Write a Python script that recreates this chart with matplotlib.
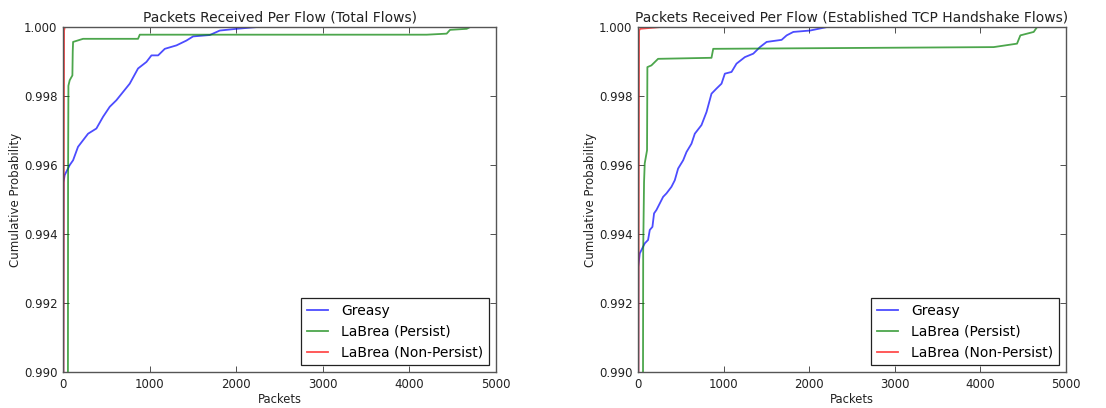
import matplotlib
matplotlib.use("Agg")
import matplotlib.pyplot as plt

# ---- data ----
titles = ["Packets Received Per Flow (Total Flows)",
          "Packets Received Per Flow (Established TCP Handshake Flows)"]
labels = ["Greasy", "LaBrea (Persist)", "LaBrea (Non-Persist)"]

greasy_total_x = [1, 5, 19, 77, 116, 173, 231, 289, 385, 462, 539, 616, 693, 770, 866,
                  963, 1021, 1098, 1175, 1310, 1425, 1502, 1695, 1810, 2003, 2234, 2400]
greasy_total_y = [0.985, 0.9955, 0.99571, 0.9960, 0.99614, 0.99653, 0.99672, 0.99691, 0.99706,
                  0.9974, 0.99769, 0.99788, 0.99812, 0.99836, 0.9988, 0.99899, 0.99918,
                  0.99918, 0.99937, 0.99947, 0.99961, 0.99973, 0.99977, 0.9999, 0.99995,
                  1.0, 1.0]
persist_total_x = [55, 58, 62, 77, 108, 112, 116, 180, 231, 866, 886, 4200, 4430, 4469, 4661, 4700]
persist_total_y = [0.985, 0.9955, 0.9983, 0.99846, 0.9986, 0.9993, 0.99957, 0.99962, 0.99966,
                   0.99966, 0.99978, 0.99978, 0.99981, 0.99992, 0.99995, 1.0]
nonpersist_total_x = [1, 12, 20, 250]
nonpersist_total_y = [0.985, 0.9999, 1.0, 1.0]

greasy_est_x = [1, 3, 20, 78, 117, 137, 168, 187, 215, 254, 293, 332, 390, 429, 468, 527,
                566, 624, 663, 741, 800, 858, 917, 975, 1014, 1092, 1150, 1248, 1346, 1424,
                1502, 1677, 1736, 1814, 2009, 2204, 2400]
greasy_est_y = [0.985, 0.99306, 0.99344, 0.99373, 0.99383, 0.99412, 0.99421, 0.9946, 0.9947,
                0.99489, 0.99508, 0.99518, 0.99537, 0.99556, 0.9959, 0.99614, 0.99638,
                0.99662, 0.99691, 0.99716, 0.99754, 0.99807, 0.99822, 0.99836, 0.99865,
                0.9987, 0.99894, 0.99913, 0.99923, 0.99942, 0.99957, 0.99963, 0.99976,
                0.99986, 0.9999, 1.0, 1.0]
persist_est_x = [55, 60, 70, 78, 105, 109, 156, 234, 858, 878, 4154, 4427, 4466, 4622, 4661]
persist_est_y = [0.985, 0.9935, 0.9955, 0.99605, 0.99643, 0.99884, 0.99889, 0.99908, 0.99911,
                 0.99937, 0.99942, 0.99952, 0.99976, 0.99986, 1.0]
nonpersist_est_x = [1, 12, 25, 254]
nonpersist_est_y = [0.985, 0.9999, 0.99995, 1.0]

xticks = [0, 1000, 2000, 3000, 4000, 5000]
yticks = [0.990, 0.992, 0.994, 0.996, 0.998, 1.000]

series = [
    [(greasy_total_x, greasy_total_y), (persist_total_x, persist_total_y),
     (nonpersist_total_x, nonpersist_total_y)],
    [(greasy_est_x, greasy_est_y), (persist_est_x, persist_est_y),
     (nonpersist_est_x, nonpersist_est_y)],
]
colors = ["#0000ff", "#008000", "#ff0000"]

plt.rcParams['font.family'] = ['DejaVu Sans']
fig = plt.figure(figsize=(11.06, 4.08), dpi=100)
positions = [[0.057, 0.088, 0.3915, 0.8456], [0.5769, 0.088, 0.387, 0.8456]]

for i in range(2):
    ax = fig.add_axes(positions[i])
    for (xs, ys), c, lab in zip(series[i], colors, labels):
        ax.plot(xs, ys, color=c, alpha=0.7, lw=1.3, label=lab)
    ax.set_xlim(0, 5000)
    ax.set_ylim(0.990, 1.000)
    ax.set_xticks(xticks)
    ax.set_yticks(yticks)
    ax.set_yticklabels([f"{v:.3f}" for v in yticks])
    ax.tick_params(labelsize=8.5, direction='in', length=4, width=0.6, top=True, right=True,
                   colors='#333333', labelcolor='#222222', pad=4)
    for s in ax.spines.values():
        s.set_color('#555555')
        s.set_linewidth(1.0)
    ax.set_title(titles[i], fontsize=10, color='#222222', pad=4)
    ax.set_xlabel("Packets", fontsize=8.3, labelpad=2, color='#222222')
    ax.set_ylabel("Cumulative Probability", fontsize=8.5, labelpad=1, color='#222222')
    leg = ax.legend(loc='lower right', fontsize=10, fancybox=False, framealpha=1,
                    borderpad=0.4, handlelength=1.5, handletextpad=1.0, labelspacing=0.5,
                    borderaxespad=0.5)
    leg.get_frame().set_edgecolor('#222222')
    leg.get_frame().set_linewidth(0.9)

fig.savefig("out.png", dpi=100)
